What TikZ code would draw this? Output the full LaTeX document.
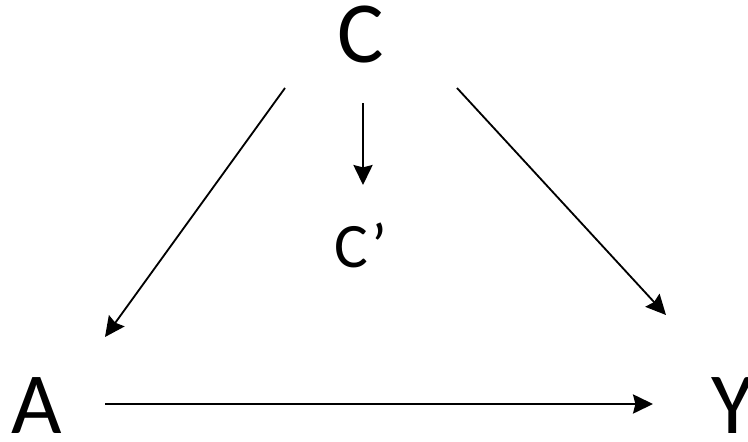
\documentclass[tikz,border=0pt]{standalone}
\usepackage{fontspec}
\setmainfont{Carlito}
\usepackage{tikz}
\usetikzlibrary{arrows.meta}
\definecolor{inkc}{HTML}{000000}
\tikzset{
  >={Stealth[length=5mm,width=4.8mm,inset=0.6mm]},
  var/.style={inner sep=0pt,anchor=base,text=inkc,font=\fontsize{62}{70}\selectfont},
  subvar/.style={var,font=\fontsize{45}{52}\selectfont},
  arr/.style={->,line width=1.3pt,draw=inkc},
}
\begin{document}
\begin{tikzpicture}[x=0.025cm,y=-0.025cm]
  \useasboundingbox (0,0) rectangle (748,441);
  % variables
  \node[var] (C) at (361,62) {C};
  \node[subvar] (Cp) at (361,267) {C’};
  \node[var] (A) at (37,433) {A};
  \node[var] (Y) at (733,433) {Y};
  % edges
  \draw[arr] ([shift={(-76,26)}]C.base) -- ([shift={(68,-96)}]A.base);
  \draw[arr] ([shift={(2,41)}]C.base) -- ([shift={(2,-82)}]Cp.base);
  \draw[arr] ([shift={(96,26)}]C.base) -- ([shift={(-67,-118)}]Y.base);
  \draw[arr] ([shift={(68,-29)}]A.base) -- ([shift={(-80,-29)}]Y.base);
\end{tikzpicture}
\end{document}
